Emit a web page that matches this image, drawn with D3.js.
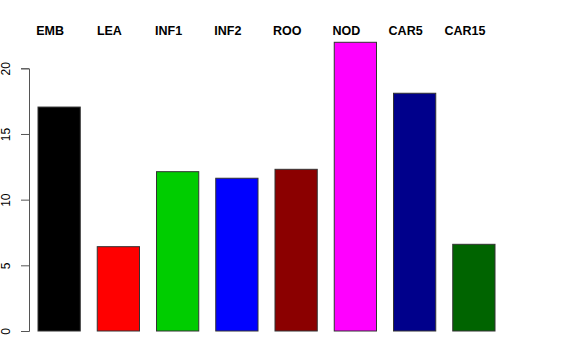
<!DOCTYPE html>
<html>
<head>
    <meta charset="utf-8">
    <title>Bar chart</title>
    <script src="https://cdnjs.cloudflare.com/ajax/libs/d3/7.8.5/d3.min.js"></script>
    <style>
        body { margin: 0; background: white; }
        svg { display: block; }
    </style>
</head>
<body>
    <div id="chart"></div>
    <script>
        const categories = ["EMB", "LEA", "INF1", "INF2", "ROO", "NOD", "CAR5", "CAR15"];
        const values = [17.05, 6.42, 12.13, 11.63, 12.31, 21.98, 18.10, 6.60];
        const colors = ["#000000", "#ff0000", "#00cd00", "#0000ff", "#8b0000", "#ff00ff", "#00008b", "#006400"];
        const yTicks = [0, 5, 10, 15, 20];

        const width = 576, height = 360;

        const svg = d3.select("#chart").append("svg")
            .attr("width", width)
            .attr("height", height);

        // bars start at x=38, pitch ~59.25px
        const x = d3.scaleBand()
            .domain(categories)
            .range([29.5, 29.5 + 59.25 * categories.length])
            .paddingInner(17 / 59.25)
            .paddingOuter(8.5 / 59.25);

        const y = d3.scaleLinear()
            .domain([0, 20])
            .range([331, 68.3]);

        // y axis
        const axis = svg.append("g")
            .attr("transform", "translate(29,0)")
            .call(d3.axisLeft(y).tickValues(yTicks).tickSize(8));
        axis.select(".domain").attr("stroke", "#555");
        axis.selectAll(".tick line").attr("stroke", "#555");
        axis.selectAll(".tick text")
            .attr("font-family", "Liberation Sans, Arial, sans-serif")
            .attr("font-size", "12px")
            .attr("fill", "black")
            .attr("text-anchor", "middle")
            .attr("x", 0)
            .attr("y", 0)
            .attr("dy", null)
            .attr("transform", "translate(-22,0) rotate(-90)")
            .attr("dominant-baseline", "middle");

        // bars
        svg.append("g")
            .selectAll("rect")
            .data(categories)
            .join("rect")
            .attr("x", d => x(d))
            .attr("y", (d, i) => y(values[i]))
            .attr("width", x.bandwidth())
            .attr("height", (d, i) => y(0) - y(values[i]))
            .attr("fill", (d, i) => colors[i])
            .attr("stroke", "#333")
            .attr("stroke-width", 1);

        // labels above plot
        svg.append("g")
            .selectAll("text")
            .data(categories)
            .join("text")
            .attr("x", d => x(d) + x.bandwidth() / 2 - 9)
            .attr("y", 34.5)
            .attr("text-anchor", "middle")
            .attr("font-family", "Liberation Sans, Arial, sans-serif")
            .attr("font-weight", "bold")
            .attr("font-size", "12.5px")
            .text(d => d);
    </script>
</body>
</html>
